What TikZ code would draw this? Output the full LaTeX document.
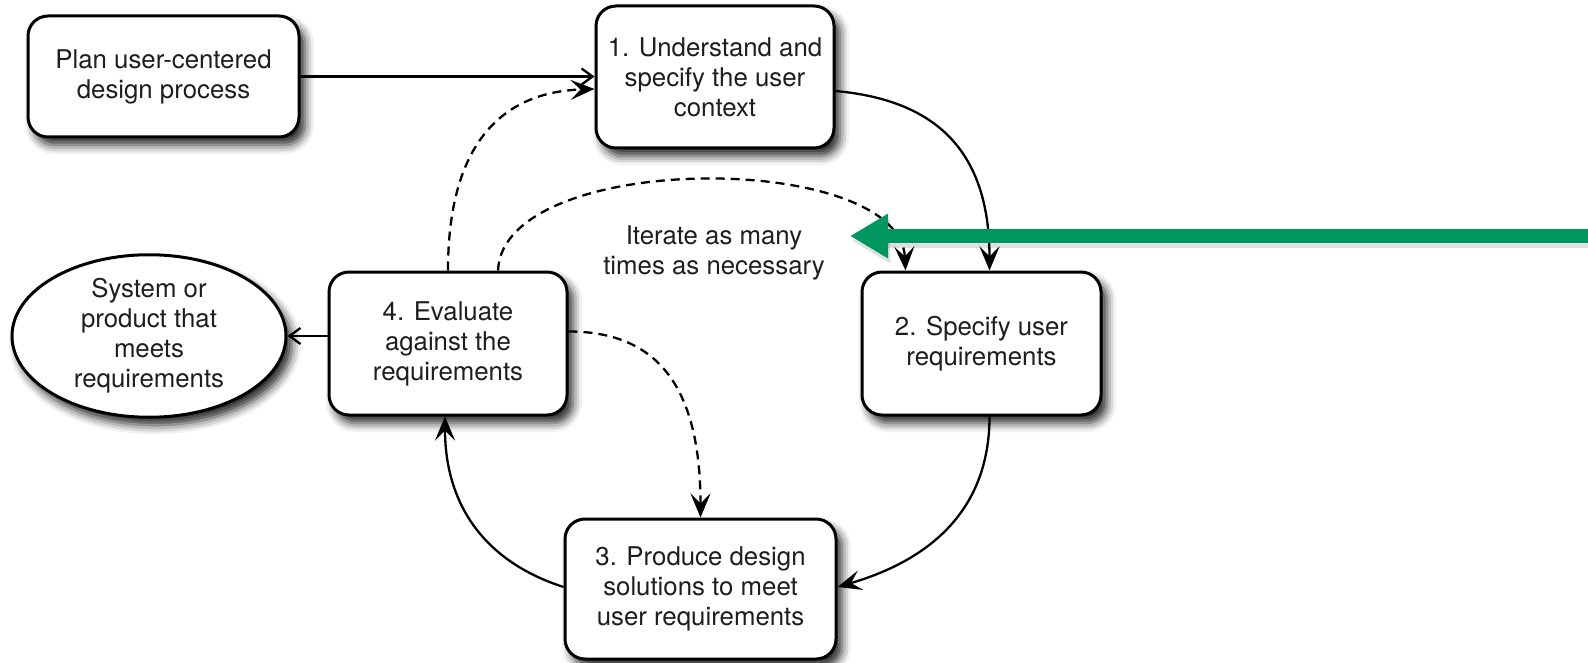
\documentclass[tikz,border=0pt]{standalone}
\usepackage{fontspec}
\setmainfont{TeX Gyre Heros}
\usetikzlibrary{arrows.meta,shapes.geometric,shadows.blur}

\definecolor{txt}{HTML}{1E1E1E}
\definecolor{marker}{RGB}{0,150,98}

\begin{document}
\begin{tikzpicture}[x=0.5pt,y=-0.5pt,
  font=\fontsize{12.9}{15}\selectfont,
  softshadow/.style={blur shadow={shadow xshift=3pt, shadow yshift=-4pt,
      shadow blur radius=4.5pt, shadow opacity=85}},
  stepbox/.style={draw=black, line width=1.5pt, rounded corners=10pt,
      fill=white, align=center, inner sep=0pt, text=txt, softshadow},
  endbox/.style={ellipse, draw=black, line width=1.5pt, fill=white,
      align=center, inner sep=0pt, text=txt, softshadow},
  flow/.style={line width=1.15pt, -{Stealth[length=12pt,width=10pt,inset=5pt]}},
  loop/.style={flow, dash pattern=on 4.5pt off 3pt},
  plain/.style={line width=1.15pt, -{Straight Barb[length=5.5pt,width=8pt]}},
  marker/.style={draw=marker, line width=6.5pt,
      -{Triangle[length=19pt,width=21pt]}}
]
\useasboundingbox (0,0) rectangle (1588,663);

% process steps
\node[stepbox, minimum width=135.5pt, minimum height=60.5pt] (plan) at (163.5,76.5)
  {Plan user-centered\\design process};
\node[stepbox, minimum width=119pt, minimum height=71pt] (s1) at (715,77)
  {1. Understand and\\specify the user\\context};
\node[stepbox, minimum width=119.5pt, minimum height=71.5pt] (s2) at (981.5,343.5)
  {2. Specify user\\requirements};
\node[stepbox, minimum width=135.5pt, minimum height=70pt] (s3) at (700.5,589)
  {3. Produce design\\solutions to meet\\user requirements};
\node[stepbox, minimum width=119pt, minimum height=71.5pt] (s4) at (448,343.5)
  {4. Evaluate\\against the\\requirements};
\node[endbox, minimum width=137pt, minimum height=71pt] (ell) at (149,336)
  {System or\\product that\\meets\\requirements};

\node[text=txt, align=center, inner sep=0pt] (iter) at (714,253)
  {Iterate as many\\times as necessary};

% entry and exit
\draw[plain] (plan.east) -- (plan.east -| s1.west);
\draw[plain] (ell.east -| s4.west) -- (ell.east);

% main cycle
\draw[flow] ([yshift=-7pt]s1.east) .. controls (935,100) and (989.5,150) .. ([xshift=4pt]s2.north);
\draw[flow] ([xshift=4pt]s2.south) .. controls (989.5,510) and (930,560) .. ([yshift=1pt]s3.east);
\draw[flow] ([yshift=1pt]s3.west) .. controls (480,560) and (445,500) .. ([xshift=-1.5pt]s4.south);

% iteration loops
\draw[loop] (s4.north) .. controls (448,140) and (505,92) .. ([yshift=-6pt]s1.west);
\draw[loop] ([xshift=25pt]s4.north) .. controls (503,150) and (900,150) .. ([xshift=-38pt]s2.north);
\draw[loop] ([yshift=6pt]s4.east) .. controls (660,331.5) and (700.5,390) .. (s3.north);

% highlight arrow with a faint shadow beneath it
\coordinate (mstart) at (1588,236);
\coordinate (mtip) at (850,236);
\draw[marker, draw=black, opacity=0.12, transform canvas={xshift=1pt,yshift=-2.5pt}] (mstart) -- (mtip);
\draw[marker] (mstart) -- (mtip);
\end{tikzpicture}
\end{document}
